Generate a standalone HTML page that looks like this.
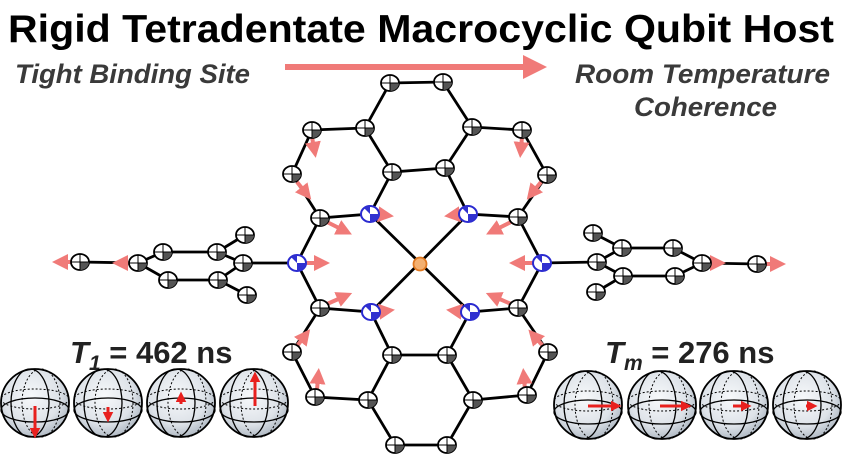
<!DOCTYPE html>
<html><head><meta charset="utf-8"><style>
html,body{margin:0;padding:0;background:#fff}
svg{display:block}
</style></head><body>
<svg width="842" height="454" viewBox="0 0 842 454" xmlns="http://www.w3.org/2000/svg">
<defs>
<marker id="ah" markerWidth="4" markerHeight="4" refX="1.5" refY="2" orient="auto" markerUnits="strokeWidth">
<path d="M0,0 L4,2 L0,4 Z" fill="#f07a78"/></marker>
<marker id="rh" markerWidth="3.5" markerHeight="3.5" refX="1" refY="1.75" orient="auto" markerUnits="strokeWidth">
<path d="M0,0 L3.5,1.75 L0,3.5 Z" fill="#e8201e"/></marker>
<radialGradient id="sg" cx="0.45" cy="0.4" r="0.6">
<stop offset="0" stop-color="#f7f9fb"/><stop offset="0.7" stop-color="#dde2e8"/><stop offset="1" stop-color="#b3bcc6"/></radialGradient>
<g id="C"><ellipse cx="0" cy="0" rx="9" ry="8" fill="#fff" stroke="#000" stroke-width="1.8"/><path d="M0,0 L9,0 A9,8 0 0 1 0,8 Z" fill="#555"/><path d="M-9,0 L9,0 M0,-8 L0,8" stroke="#000" stroke-width="1"/></g>
<g id="N"><ellipse cx="0" cy="0" rx="9" ry="8" fill="#fff" stroke="#2a2ad0" stroke-width="2"/><path d="M0,0 L9,0 A9,8 0 0 1 0,8 Z M0,0 L-6,-6 A9,8 0 0 1 0,-8Z" fill="#3030d0"/></g>
<g id="S">
<circle r="34" fill="url(#sg)" stroke="#000" stroke-width="1.8"/>
<ellipse cx="-5" cy="0" rx="19" ry="34" fill="none" stroke="#000" stroke-width="1.3"/>
<ellipse cx="6" cy="0" rx="19" ry="34" fill="none" stroke="#000" stroke-width="1" stroke-dasharray="2,2"/>
<ellipse cx="0" cy="-4" rx="34" ry="10" fill="none" stroke="#000" stroke-width="1" stroke-dasharray="2,2"/>
<ellipse cx="0" cy="7" rx="34" ry="12" fill="none" stroke="#000" stroke-width="1.3"/>
</g>
</defs>

<text x="8" y="42" font-family="Liberation Sans, sans-serif" font-weight="bold" font-size="39" textLength="826" lengthAdjust="spacingAndGlyphs" fill="#000">Rigid Tetradentate Macrocyclic Qubit Host</text>
<g font-family="Liberation Sans, sans-serif" font-weight="bold" font-style="italic" font-size="27" fill="#3a3a3a">
<text x="15" y="83" textLength="235" lengthAdjust="spacingAndGlyphs">Tight Binding Site</text>
<text x="575" y="83" textLength="255" lengthAdjust="spacingAndGlyphs">Room Temperature</text>
<text x="634" y="116" textLength="143" lengthAdjust="spacingAndGlyphs">Coherence</text>
</g>
<line x1="285" y1="67" x2="532" y2="67" stroke="#f07a78" stroke-width="6" marker-end="url(#ah)"/>

<g stroke="#000" stroke-width="2.8" fill="none">
<path d="M390,83 L443,82 L472,127 L445,168 L392,172 L365,128 Z"/>
<path d="M365,128 L312,130 L292,174 L320,218 L370,214 L392,172"/>
<path d="M472,127 L522,130 L547,175 L518,217 L468,214 L445,168"/>
<path d="M320,218 L297,263 L320,308 L371,312 L392,355 L368,400 L315,397 L292,352 L320,308"/>
<path d="M518,217 L542,263 L518,308 L470,312 L447,355 L473,400 L527,395 L548,352 L518,308"/>
<path d="M392,355 L447,355 M368,400 L395,445 L447,445 L473,400"/>
<path d="M370,214 L470,312 M468,214 L371,312"/>
<path d="M297,263 L243,263 L217,252 L163,252 L138,263 L168,280 L218,280 L243,263 M217,252 L245,235 M218,280 L247,295 M138,263 L80,262"/>
<path d="M542,263 L597,262 L622,248 L673,248 L702,263 L675,276 L623,276 L597,262 M622,248 L593,233 M623,276 L596,292 M702,263 L757,264"/>
</g>

<g stroke="#f07a78" stroke-width="4" marker-end="url(#ah)">
<line x1="312" y1="137" x2="314" y2="148"/>
<line x1="297" y1="182" x2="305" y2="192"/>
<line x1="327" y1="222" x2="343" y2="230"/>
<line x1="376" y1="214" x2="384" y2="215"/>
<line x1="304" y1="263" x2="320" y2="263"/>
<line x1="327" y1="304" x2="343" y2="297"/>
<line x1="377" y1="312" x2="385" y2="311"/>
<line x1="297" y1="346" x2="304" y2="337"/>
<line x1="317" y1="390" x2="318" y2="378"/>
<line x1="522" y1="137" x2="521" y2="148"/>
<line x1="541" y1="182" x2="533" y2="192"/>
<line x1="511" y1="222" x2="495" y2="230"/>
<line x1="462" y1="214" x2="454" y2="215"/>
<line x1="535" y1="263" x2="519" y2="263"/>
<line x1="511" y1="304" x2="495" y2="297"/>
<line x1="464" y1="312" x2="456" y2="311"/>
<line x1="543" y1="346" x2="535" y2="337"/>
<line x1="525" y1="390" x2="524" y2="378"/>
<line x1="74" y1="262" x2="62" y2="262"/>
<line x1="131" y1="263" x2="122" y2="263"/>
<line x1="708" y1="263" x2="716" y2="263"/>
<line x1="764" y1="264" x2="776" y2="264"/>
</g>

<g>
<use href="#C" x="390" y="83"/><use href="#C" x="443" y="82"/><use href="#C" x="365" y="128"/><use href="#C" x="472" y="127"/>
<use href="#C" x="392" y="172"/><use href="#C" x="445" y="168"/><use href="#C" x="312" y="130"/><use href="#C" x="292" y="174"/>
<use href="#C" x="320" y="218"/><use href="#C" x="522" y="130"/><use href="#C" x="547" y="175"/><use href="#C" x="518" y="217"/>
<use href="#C" x="320" y="308"/><use href="#C" x="292" y="352"/><use href="#C" x="315" y="397"/><use href="#C" x="368" y="400"/>
<use href="#C" x="392" y="355"/><use href="#C" x="518" y="308"/><use href="#C" x="548" y="352"/><use href="#C" x="527" y="395"/>
<use href="#C" x="473" y="400"/><use href="#C" x="447" y="355"/><use href="#C" x="395" y="445"/><use href="#C" x="447" y="445"/>
<use href="#C" x="80" y="262"/><use href="#C" x="138" y="263"/><use href="#C" x="163" y="252"/><use href="#C" x="168" y="280"/>
<use href="#C" x="217" y="252"/><use href="#C" x="218" y="280"/><use href="#C" x="243" y="263"/><use href="#C" x="245" y="235"/><use href="#C" x="247" y="295"/>
<use href="#C" x="757" y="264"/><use href="#C" x="702" y="263"/><use href="#C" x="673" y="248"/><use href="#C" x="675" y="276"/>
<use href="#C" x="622" y="248"/><use href="#C" x="623" y="276"/><use href="#C" x="597" y="262"/><use href="#C" x="593" y="233"/><use href="#C" x="596" y="292"/>
<use href="#N" x="370" y="214"/><use href="#N" x="468" y="214"/><use href="#N" x="371" y="312"/><use href="#N" x="470" y="312"/>
<use href="#N" x="297" y="263"/><use href="#N" x="542" y="263"/>
<circle cx="420" cy="264" r="6.5" fill="#f4b070" stroke="#e07820" stroke-width="1.8"/>
</g>

<g font-family="Liberation Sans, sans-serif" font-weight="bold" fill="#222">
<text x="70" y="363" font-size="31"><tspan font-style="italic">T</tspan><tspan font-size="21" font-style="italic" dy="7">1</tspan><tspan dy="-7"> = 462 ns</tspan></text>
<text x="605" y="363" font-size="31"><tspan font-style="italic">T</tspan><tspan font-size="21" font-style="italic" dy="7">m</tspan><tspan dy="-7"> = 276 ns</tspan></text>
</g>

<use href="#S" x="35" y="403"/><use href="#S" x="108" y="403"/><use href="#S" x="181" y="403"/><use href="#S" x="254" y="403"/>
<use href="#S" x="588" y="405"/><use href="#S" x="662" y="405"/><use href="#S" x="734" y="405"/><use href="#S" x="807" y="405"/>
<g stroke="#e8201e" stroke-width="3" marker-end="url(#rh)">
<line x1="35" y1="406" x2="35" y2="431"/>
<line x1="108" y1="407" x2="108" y2="415"/>
<line x1="181" y1="404" x2="181" y2="399"/>
<line x1="255" y1="406" x2="255" y2="379"/>
<line x1="588" y1="406" x2="614" y2="406"/>
<line x1="660" y1="406" x2="684" y2="406"/>
<line x1="733" y1="406" x2="744" y2="406"/>
<line x1="806" y1="406" x2="810" y2="406"/>
</g>
</svg>
</body></html>
